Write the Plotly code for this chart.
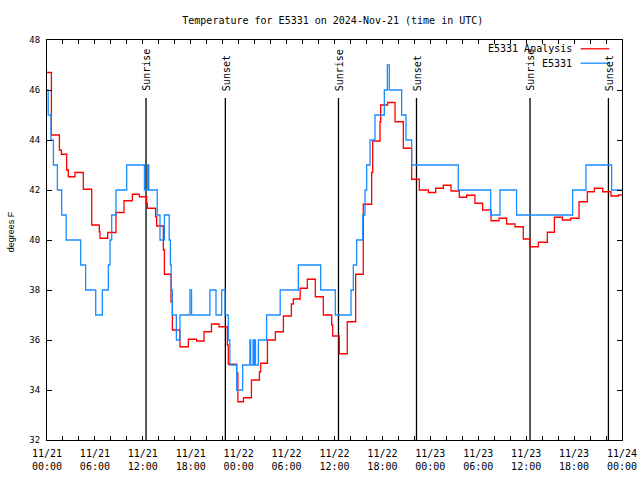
import pandas as pd
import plotly.graph_objects as go

# ---- data (hours since 2024-11-21 00:00 UTC, value in degrees F) ----
analysis_hours = [0, 0.55, 1.55, 1.8, 2.46, 2.67, 3.5, 4.55, 5.6, 6.55, 6.64, 7.6, 8.64, 9.64,
                  10.69, 11.56, 12.48, 12.56, 13.6, 13.73, 14.57, 14.7, 15.53, 15.7, 16.65, 17.7,
                  18.74, 19.66, 20.6, 21.54, 22.58, 22.7, 23.75, 23.9, 24.6, 25.6, 26.6, 26.76,
                  27.6, 28.6, 29.6, 30.6, 30.84, 31.7, 32.6, 33.6, 34.6, 35.65, 35.77, 36.6, 37.6,
                  38.65, 39.6, 40.65, 40.78, 41.7, 41.78, 42.66, 43.58, 44.62, 45.66, 46.62, 47.75,
                  48.67, 49.63, 50.59, 51.63, 52.55, 53.59, 54.55, 55.6, 56.6, 57.56, 58.6, 59.64,
                  60.48, 61.52, 62.65, 63.53, 64.53, 65.58, 66.62, 67.66, 68.53, 69.58, 70.62,
                  71.54, 72]
analysis_vals = [46.7, 44.2, 43.6, 43.43, 42.8, 42.53, 42.7, 42.03, 40.6, 40.33, 40.07, 40.3, 41.1,
                 41.57, 41.83, 41.73, 41.47, 41.27, 40.93, 40.56, 39.6, 38.63, 37.53, 36.4, 35.73,
                 36.03, 35.96, 36.33, 36.64, 36.53, 35.8, 35.03, 34.67, 33.53, 33.69, 34.4, 34.73,
                 35.07, 36.0, 36.33, 36.96, 37.44, 37.64, 38.07, 38.43, 37.73, 37.0, 36.6, 36.16,
                 35.45, 36.73, 38.63, 41.43, 42.7, 43.96, 44.73, 45.4, 45.5, 44.73, 43.67, 42.43,
                 42.0, 41.9, 42.07, 42.19, 41.96, 41.71, 41.79, 41.47, 41.2, 40.77, 40.87, 40.64,
                 40.53, 40.04, 39.73, 39.91, 40.31, 40.91, 40.8, 40.87, 41.53, 41.93, 42.07, 41.93,
                 41.76, 41.8, 41.8]

station_hours = [0, 0.15, 0.5, 0.8, 1.3, 1.84, 2.4, 4.22, 4.84, 6.1, 6.93, 7.68, 7.89, 8.1, 8.64,
                 9.98, 12.2, 12.6, 12.75, 13.8, 14.15, 14.7, 15.3, 15.45, 15.55, 15.7, 16.2, 16.65,
                 17.9, 18.1, 20.4, 21.16, 21.87, 22.29, 22.7, 22.9, 23.75, 24.5, 25.4, 25.5, 25.8,
                 25.9, 26.0, 26.1, 26.46, 27.5, 29.2, 31.47, 34.27, 36.1, 38.07, 38.36, 38.78,
                 39.53, 39.82, 40.03, 40.45, 41.07, 42.24, 42.62, 42.86, 44.41, 44.95, 45.66,
                 51.5, 55.55, 56.72, 58.8, 65.82, 67.49, 70.7, 72]
station_vals = [46, 45, 44, 43, 42, 41, 40, 39, 38, 37, 38, 39, 40, 41, 42,
                43, 42, 43, 42, 41, 40, 41, 40, 39, 38, 37, 36, 37,
                38, 37, 38, 37, 38, 37, 36, 35, 34, 35, 36, 35, 36,
                35, 36, 35, 36, 37, 38, 39, 38, 37, 38, 39, 40,
                41, 42, 43, 44, 45, 46, 47, 46, 45, 44, 43,
                42, 41, 42, 41, 42, 43, 42, 42]

sun_times = ["2024-11-21 12:24", "2024-11-21 22:20", "2024-11-22 12:30",
             "2024-11-22 22:16", "2024-11-23 12:29", "2024-11-23 22:18"]
sun_labels = ["Sunrise", "Sunset", "Sunrise", "Sunset", "Sunrise", "Sunset"]

x_tick_vals = ["2024-11-21 00:00", "2024-11-21 06:00", "2024-11-21 12:00", "2024-11-21 18:00",
               "2024-11-22 00:00", "2024-11-22 06:00", "2024-11-22 12:00", "2024-11-22 18:00",
               "2024-11-23 00:00", "2024-11-23 06:00", "2024-11-23 12:00", "2024-11-23 18:00",
               "2024-11-24 00:00"]
x_tick_text = ["11/21<br>00:00", "11/21<br>06:00", "11/21<br>12:00", "11/21<br>18:00",
               "11/22<br>00:00", "11/22<br>06:00", "11/22<br>12:00", "11/22<br>18:00",
               "11/23<br>00:00", "11/23<br>06:00", "11/23<br>12:00", "11/23<br>18:00",
               "11/24<br>00:00"]
y_tick_vals = [32, 34, 36, 38, 40, 42, 44, 46, 48]

series_names = ["E5331 Analysis", "E5331"]
series_colors = ["#ff0000", "#1a8cff"]

base = pd.Timestamp("2024-11-21 00:00")
t_analysis = base + pd.to_timedelta(analysis_hours, unit="h")
t_station = base + pd.to_timedelta(station_hours, unit="h")

MONO = "DejaVu Sans Mono"

fig = go.Figure()
fig.add_trace(go.Scatter(x=t_analysis, y=analysis_vals, mode="lines", line_shape="hv",
                         name=series_names[0], line=dict(color=series_colors[0], width=1.3),
                         showlegend=False))
fig.add_trace(go.Scatter(x=t_station, y=station_vals, mode="lines", line_shape="hv",
                         name=series_names[1], line=dict(color=series_colors[1], width=1.3),
                         showlegend=False))

shapes = []
annotations = []
for t, lab in zip(sun_times, sun_labels):
    shapes.append(dict(type="line", xref="x", yref="paper", x0=t, x1=t, y0=0, y1=0.855,
                       line=dict(color="black", width=1.3), layer="below"))
    annotations.append(dict(x=t, y=0.868, xref="x", yref="paper", text=lab, textangle=-90,
                            showarrow=False, xanchor="center", yanchor="bottom", xshift=1,
                            font=dict(family=MONO, size=10, color="black")))

# key (gnuplot style: text on the left, sample line on the right)
key_y = [0.978, 0.942]
for name, color, ky in zip(series_names, series_colors, key_y):
    annotations.append(dict(x=0.917, y=ky, xref="paper", yref="paper", text=name,
                            showarrow=False, xanchor="right", yanchor="middle",
                            font=dict(family=MONO, size=10, color="black")))
    shapes.append(dict(type="line", xref="paper", yref="paper", x0=0.928, x1=0.978,
                       y0=ky, y1=ky, line=dict(color=color, width=1.3)))

annotations.append(dict(x=-0.062, y=0.52, xref="paper", yref="paper", text="degrees F",
                        textangle=-90, showarrow=False, xanchor="center", yanchor="middle",
                        font=dict(family="Liberation Sans", size=9, color="black")))

fig.update_layout(
    width=640, height=480,
    margin=dict(l=47, r=18, t=40, b=40, autoexpand=False),
    paper_bgcolor="white", plot_bgcolor="white",
    title=dict(text="Temperature for E5331 on 2024-Nov-21 (time in UTC)", x=0.52, xanchor="center",
               y=0.958, yanchor="middle", font=dict(family=MONO, size=10, color="black"),
               automargin=False),
    shapes=shapes, annotations=annotations, showlegend=False,
)
fig.update_xaxes(range=["2024-11-21 00:00", "2024-11-24 00:00"], tickvals=x_tick_vals,
                 ticktext=x_tick_text, ticks="inside", ticklen=4, tickcolor="black",
                 showgrid=False, zeroline=False, showline=True, linecolor="black", linewidth=1,
                 mirror="ticks", automargin=False, ticklabelstandoff=4,
                 tickfont=dict(family=MONO, size=10, color="black"),
                 minor=dict(dtick=2 * 3600 * 1000, tick0="2024-11-21", ticks="inside",
                            ticklen=4, tickcolor="black", showgrid=False))
fig.update_yaxes(range=[32, 48], tickvals=y_tick_vals, ticks="inside", ticklen=5,
                 tickcolor="black", showgrid=False, zeroline=False, showline=True,
                 linecolor="black", linewidth=1, mirror="ticks", ticklabelstandoff=4,
                 automargin=False, tickfont=dict(family=MONO, size=9, color="black"))

fig.write_html("out.html", config={"displayModeBar": False},
               post_script="document.body.style.margin='0px';")
